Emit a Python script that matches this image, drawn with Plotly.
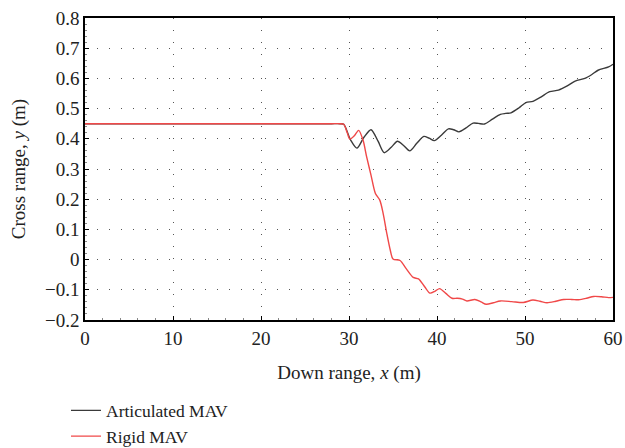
import plotly.graph_objects as go

# Articulated MAV (black)
art_x = [0, 10, 20, 25, 28.0, 29.0, 29.4, 30.2, 30.9, 31.7, 32.5, 33.3, 34.0, 34.8, 35.5, 36.2, 36.9, 37.7,
         38.5, 39.1, 39.7, 40.5, 41.3, 41.9, 42.5, 43.3, 44.1, 44.7, 45.4, 46.3, 47.2, 47.8,
         48.4, 49.3, 50.1, 50.9, 51.8, 52.8, 53.8, 54.8, 55.7, 56.8, 57.6, 58.3, 59.5, 60.0]
art_y = [0.45, 0.45, 0.45, 0.45, 0.45, 0.45, 0.448, 0.395, 0.369, 0.405, 0.43, 0.392, 0.354, 0.372, 0.392, 0.378, 0.36, 0.385,
         0.408, 0.402, 0.394, 0.412, 0.433, 0.43, 0.423, 0.436, 0.452, 0.451, 0.449, 0.465, 0.481, 0.484,
         0.486, 0.502, 0.52, 0.524, 0.538, 0.556, 0.561, 0.575, 0.591, 0.6, 0.613, 0.627, 0.638, 0.647]

# Rigid MAV (red)
rig_x = [0, 10, 20, 25, 28.0, 29.0, 29.4, 29.8, 30.1, 30.6, 31.1, 31.6, 32.0, 32.5, 33.0, 33.5, 33.9, 34.3,
         34.7, 35.0, 35.8, 36.5, 37.3, 37.9, 38.6, 39.2, 39.8, 40.3, 41.0, 41.7, 42.3, 42.9, 43.4,
         44.3, 45.0, 45.6, 46.4, 47.2, 48.5, 49.8, 50.9, 51.7, 52.5, 53.5, 54.4, 55.3, 56.1,
         57.0, 57.8, 58.7, 59.5, 60.0]
rig_y = [0.45, 0.45, 0.45, 0.45, 0.45, 0.45, 0.448, 0.42, 0.399, 0.41, 0.428, 0.395, 0.341, 0.28, 0.219, 0.197, 0.15, 0.086,
         0.03, 0.002, -0.003, -0.03, -0.059, -0.064, -0.09, -0.111, -0.104, -0.096, -0.112, -0.128, -0.128, -0.131, -0.137,
         -0.132, -0.14, -0.148, -0.143, -0.137, -0.139, -0.142, -0.134, -0.138, -0.143, -0.138, -0.132, -0.132, -0.133,
         -0.128, -0.122, -0.123, -0.126, -0.125]

x_ticks = [0, 10, 20, 30, 40, 50, 60]
y_ticks = [-0.2, -0.1, 0, 0.1, 0.2, 0.3, 0.4, 0.5, 0.6, 0.7, 0.8]
y_tick_text = ["\u22120.2", "\u22120.1", "0", "0.1", "0.2", "0.3", "0.4", "0.5", "0.6", "0.7", "0.8"]

FONT = "Liberation Serif"
FS = 19

fig = go.Figure()
fig.add_trace(go.Scatter(x=art_x, y=art_y, mode="lines", name="Articulated MAV",
                         line=dict(color="#3a3a3a", width=1.4, shape="spline", smoothing=0.8)))
fig.add_trace(go.Scatter(x=rig_x, y=rig_y, mode="lines", name="Rigid MAV",
                         line=dict(color="#f04848", width=1.4, shape="spline", smoothing=0.8)))

axis_common = dict(
    showline=True, linecolor="black", linewidth=1.5, mirror=True,
    ticks="inside", ticklen=4, tickcolor="black", tickwidth=1,
    showgrid=True, gridcolor="#555555", gridwidth=1, griddash="1px,11px",
    zeroline=False, tickfont=dict(family=FONT, size=FS, color="#222"),
    automargin=False,
)

fig.update_xaxes(range=[0, 60], tickvals=x_ticks, **axis_common,
                 title=dict(text="Down range, <i>x</i> (m)", font=dict(family=FONT, size=FS, color="#222"), standoff=18),
                 minor=dict(ticks="inside", ticklen=2, tickcolor="#888", dtick=2, showgrid=False))
fig.update_yaxes(range=[-0.2, 0.8], tickvals=y_ticks, ticktext=y_tick_text, **axis_common,
                 title=dict(text="Cross range, <i>y</i> (m)", font=dict(family=FONT, size=FS, color="#222"), standoff=14),
                 minor=dict(ticks="inside", ticklen=2, tickcolor="#888", dtick=0.02, showgrid=False))

fig.update_layout(
    width=625, height=448,
    margin=dict(l=85, r=12, t=18, b=128, autoexpand=False),
    paper_bgcolor="white", plot_bgcolor="white",
    showlegend=True,
    legend=dict(x=-0.036, y=-0.24, xanchor="left", yanchor="top",
                font=dict(family=FONT, size=17.5, color="#222"),
                bgcolor="rgba(0,0,0,0)", tracegroupgap=0, itemwidth=30),
)

fig.write_html("out.html")
